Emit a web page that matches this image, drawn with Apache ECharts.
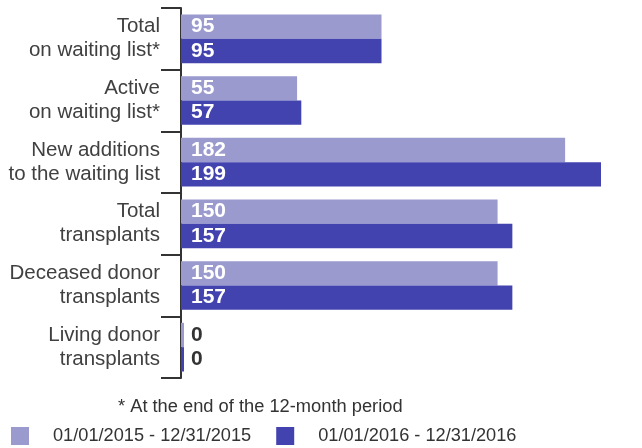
<!DOCTYPE html>
<html><head><meta charset="utf-8">
<script src="https://cdn.jsdelivr.net/npm/echarts@6/dist/echarts.min.js"></script>
<style>html,body{margin:0;padding:0;background:#fff}#c{width:642px;height:448px}</style>
</head><body><div id="c"></div>
<script>
const categories = ['Total\non waiting list*', 'Active\non waiting list*', 'New additions\nto the waiting list', 'Total\ntransplants', 'Deceased donor\ntransplants', 'Living donor\ntransplants'];
const series2015 = [95, 55, 182, 150, 150, 0];
const series2016 = [95, 57, 199, 157, 157, 0];
const seriesNames = ['01/01/2015 - 12/31/2015', '01/01/2016 - 12/31/2016'];
const footnote = '* At the end of the 12-month period';
const colors = ['#9a9acf', '#4343b0'];
const FONT = 'Liberation Sans, Arial, sans-serif';
function toData(arr){ return arr.map(v => ({value: v, label: {color: v === 0 ? '#333' : '#fff'}})); }
const chart = echarts.init(document.getElementById('c'), null, {renderer: 'canvas'});
function mk(name, arr, color){
  return {
    name: name, type: 'bar', data: toData(arr), barGap: '0%', barCategoryGap: '21%',
    barMinHeight: 3, itemStyle: {color: color},
    label: {show: true, position: 'insideLeft', distance: 10, fontFamily: FONT, fontWeight: 'bold', fontSize: 21},
    animation: false
  };
}
chart.setOption({
  animation: false,
  textStyle: {fontFamily: FONT},
  title: {text: footnote, left: 113, top: 393, textStyle: {fontSize: 18.3, fontWeight: 'normal', color: '#333', fontFamily: FONT}},
  legend: {left: 6, top: 422, itemWidth: 18, itemHeight: 18, itemGap: 25, icon: 'rect',
    textStyle: {fontSize: 18.2, color: '#333', fontFamily: FONT, padding: [0,0,0,19]},
    data: seriesNames},
  grid: {left: 181, right: 41, top: 8, bottom: 70, containLabel: false},
  xAxis: {type: 'value', min: 0, max: 'dataMax', show: false},
  yAxis: {type: 'category', inverse: true, data: categories,
    axisLine: {show: true, lineStyle: {color: '#333', width: 2}},
    axisTick: {show: true, length: 20, lineStyle: {color: '#333', width: 2}},
    axisLabel: {margin: 21, fontSize: 20.5, lineHeight: 24, color: '#404040', fontFamily: FONT}},
  series: [mk(seriesNames[0], series2015, colors[0]), mk(seriesNames[1], series2016, colors[1])]
});
</script></body></html>
